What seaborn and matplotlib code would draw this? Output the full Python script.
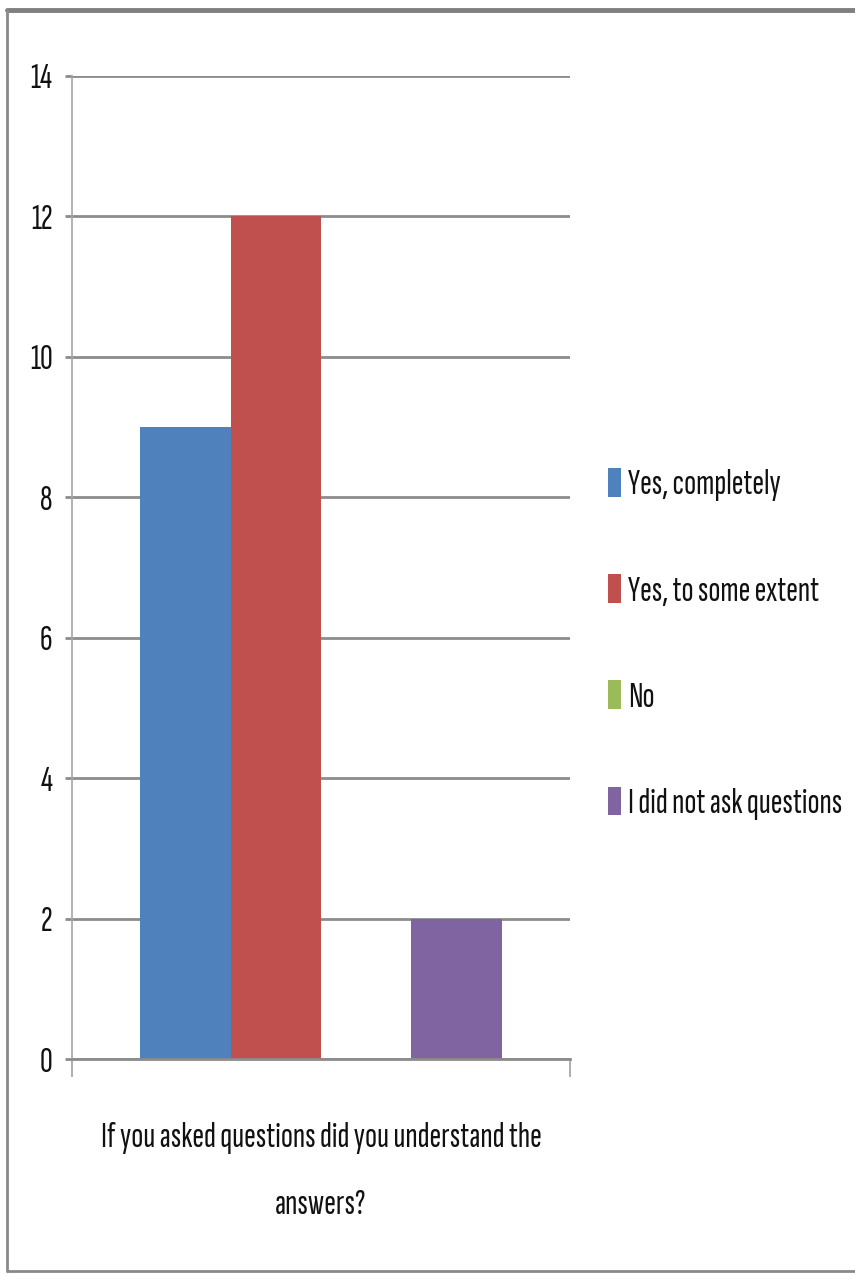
import matplotlib
matplotlib.use("Agg")
import matplotlib.pyplot as plt
from matplotlib.lines import Line2D
import seaborn as sns
import pandas as pd

# Survey question and answers
question = "If you asked questions did you understand the answers?"
question_label = "If you asked questions did you understand the\nanswers?"
responses = ["Yes, completely", "Yes, to some extent", "No", "I did not ask questions"]
counts = [9, 12, 0, 2]
colors = ["#4F81BD", "#C0504D", "#9BBB59", "#8064A2"]
yticks = [0, 2, 4, 6, 8, 10, 12, 14]

sns.set_theme(style="white")
plt.rcParams["font.family"] = ["Sofia Sans Extra Condensed", "DejaVu Sans"]

FS = 25.5
W, H = 855, 1275
fig = plt.figure(figsize=(W / 100, H / 100), dpi=100)
fig.patch.set_facecolor("white")

ax = fig.add_axes([72 / W, 1 - 1059 / H, (570 - 72) / W, (1059 - 76) / H])

df = pd.DataFrame({"question": [question] * len(responses),
                   "response": responses,
                   "count": counts})

sns.barplot(data=df, x="question", y="count", hue="response",
            hue_order=responses, palette=colors, saturation=1,
            width=0.725, dodge=True, linewidth=0, ax=ax)

handles, labels = ax.get_legend_handles_labels()
if ax.get_legend() is not None:
    ax.get_legend().remove()

grid_color = "#8c8c8c"
ax.set_ylim(0, 14)
ax.set_xlim(-0.5, 0.5)
ax.set_yticks(yticks)
ax.set_yticklabels([str(v) for v in yticks], fontsize=FS, color="#111111")
ax.yaxis.grid(True, color=grid_color, linewidth=2.0)
ax.set_axisbelow(True)
ax.tick_params(axis="y", direction="out", length=5, width=2.0,
               color=grid_color, pad=9, left=True)

# Category label below the axis; tick marks sit at the category edges
ax.set_xticks([0])
ax.set_xticklabels([question_label], fontsize=FS, color="#111111",
                   linespacing=2.4)
ax.tick_params(axis="x", which="major", length=0, pad=45)
ax.set_xticks([-0.5, 0.5], minor=True)
ax.tick_params(axis="x", which="minor", direction="out", length=13,
               width=1.2, color="#a0a0a0", bottom=True)
ax.set_xlabel("")
ax.set_ylabel("")

for side in ["top", "right"]:
    ax.spines[side].set_visible(False)
ax.spines["left"].set_color("#a6a6a6")
ax.spines["left"].set_linewidth(1.2)
ax.spines["bottom"].set_color(grid_color)
ax.spines["bottom"].set_linewidth(2.0)

leg = fig.legend(handles, labels, loc="center left",
                 bbox_to_anchor=(608 / W, 1 - 644 / H),
                 frameon=False, fontsize=FS, borderpad=0, borderaxespad=0,
                 handlelength=0.37, handleheight=0.87, handletextpad=0.2,
                 labelspacing=2.05)
for t in leg.get_texts():
    t.set_color("#111111")

# Chart-area frame
fig.add_artist(Line2D([7 / W, 1.0], [1 - 9.5 / H, 1 - 9.5 / H],
                      transform=fig.transFigure, color="#7f7f7f", linewidth=3.5))
fig.add_artist(Line2D([7 / W, 7 / W], [1 - 9.5 / H, 1 - 1271 / H],
                      transform=fig.transFigure, color="#8a8a8a", linewidth=2))
fig.add_artist(Line2D([7 / W, 1.0], [1 - 1271 / H, 1 - 1271 / H],
                      transform=fig.transFigure, color="#8a8a8a", linewidth=2))

fig.savefig("out.png", dpi=100)
